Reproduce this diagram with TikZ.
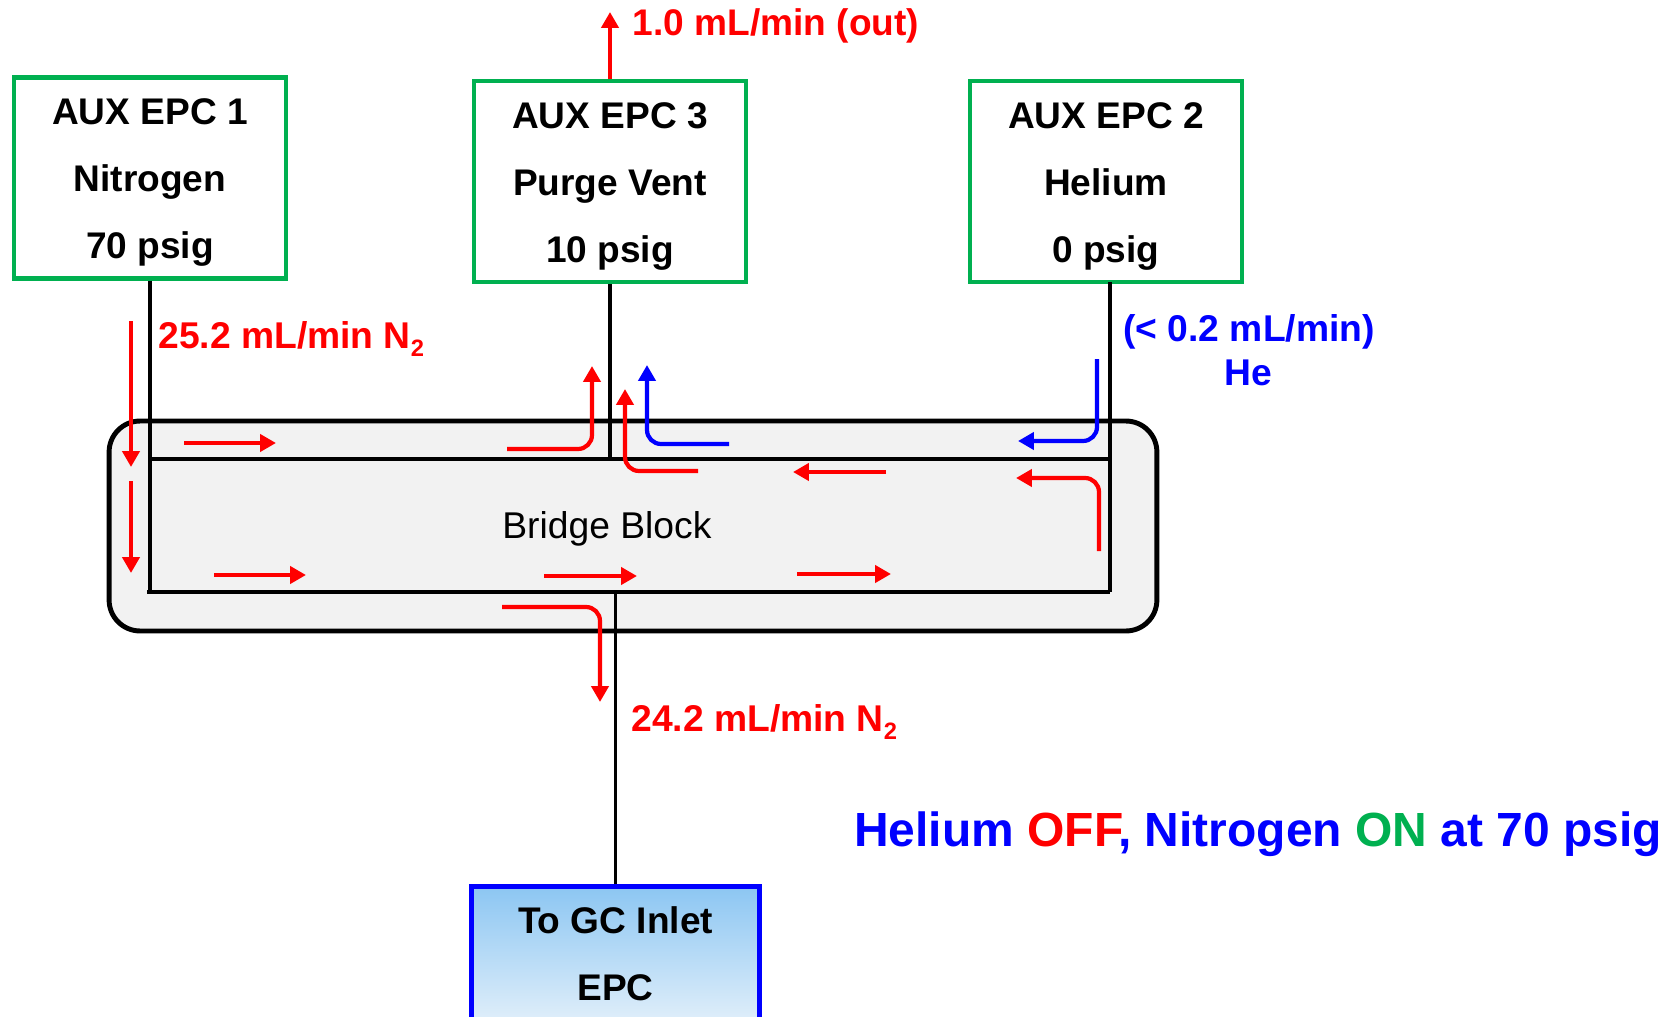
\documentclass[tikz,border=0pt]{standalone}
\usepackage{fontspec}
\setmainfont{Liberation Sans}
\usetikzlibrary{arrows.meta}
\definecolor{epcgreen}{HTML}{00B050}
\definecolor{blockgray}{HTML}{F2F2F2}
\definecolor{gctop}{HTML}{8CC6F2}
\definecolor{gcbottom}{HTML}{DFEEFA}
\newcommand{\subtwo}{\raisebox{-4.6pt}{\fontsize{13.5}{14}\selectfont 2}}
\newcommand{\boxstrut}{\rule{0pt}{20pt}}
\begin{document}
\begin{tikzpicture}[x=0.02cm, y=-0.02cm,
    epcbox/.style={draw=epcgreen, line width=2.3pt, minimum width=5.44cm, minimum height=4.02cm, align=center, inner sep=0pt, font=\fontsize{21.1}{38.2}\selectfont\bfseries},
    gcbox/.style={draw=blue, line width=2.4pt, top color=gctop, bottom color=gcbottom, minimum width=5.76cm, minimum height=2.68cm, align=center, inner sep=0pt, font=\fontsize{21.1}{38.2}\selectfont\bfseries},
    pipe/.style={black, line width=2pt},
    flow/.style={line width=2.4pt, -{Triangle[length=9pt, width=9.6pt]}},
    flowlabel/.style={anchor=base west, inner sep=0pt, font=\fontsize{21.2}{25}\selectfont\bfseries}]
    \useasboundingbox (0,0) rectangle (1674,1017);

    \node[draw, line width=2.8pt, fill=blockgray, rounded corners=0.62cm, minimum width=20.96cm, minimum height=4.2cm] (block) at (633,526) {};
    \node[anchor=base west, inner sep=0pt, font=\fontsize{21.2}{25}\selectfont] (blocklabel) at (502,538) {Bridge Block};

    \node[epcbox] (epc1) at (150,178) {\boxstrut AUX EPC 1\\Nitrogen\\70 psig};
    \node[epcbox] (epc3) at (610,181.5) {\boxstrut AUX EPC 3\\Purge Vent\\10 psig};
    \node[epcbox] (epc2) at (1106,181.5) {\boxstrut AUX EPC 2\\Helium\\0 psig};
    \node[gcbox] (gc) at (615.5,953.5) {To GC Inlet\\EPC};

    % pipes through the block
    \coordinate (topleft) at (150,459);
    \coordinate (topright) at (1110,459);
    \coordinate (botleft) at (147,592);
    \coordinate (botright) at (1110,592);
    \draw[pipe] (epc1.south) -- (epc1.south |- botleft);
    \draw[pipe] (botleft) -- (botright);
    \draw[pipe] (topleft) -- (topright);
    \draw[pipe] (epc3.south) -- (epc3.south |- topleft);
    \draw[pipe] (1110,282) -- (botright);
    \draw[pipe] (gc.north) -- (gc.north |- botleft);

    % straight flow arrows
    \foreach \n/\xa/\ya/\xb/\yb in {a/131/321/131/467, b/131/481/131/573, c/184/443/276/443, d/214/575/306/575, e/544/576/637/576, f/797/574/891/574, g/886/472/793/472} {
        \coordinate (flow\n start) at (\xa,\ya);
        \coordinate (flow\n end) at (\xb,\yb);
        \draw[flow, red] (flow\n start) -- (flow\n end);
    }

    % flow arrows with a bend
    \coordinate (ventend) at (610,12);
    \draw[flow, red] (epc3.north) -- (ventend);
    \draw[flow, red, rounded corners=0.28cm] (507,449) -- (592,449) -- (592,366);
    \draw[flow, red, rounded corners=0.28cm] (698,471) -- (625,471) -- (625,389);
    \draw[flow, red, rounded corners=0.28cm] (502,607) -- (600,607) -- (600,702);
    \draw[flow, red, rounded corners=0.28cm] (1099,551) -- (1099,478) -- (1016,478);
    \draw[flow, blue, rounded corners=0.28cm] (729,444) -- (647,444) -- (647,365);
    \draw[flow, blue, rounded corners=0.28cm] (1097,359) -- (1097,441) -- (1018,441);

    \node[flowlabel, red] (n2in) at (158,348) {25.2 mL/min N\subtwo};
    \node[flowlabel, red, font=\fontsize{21.1}{25}\selectfont\bfseries] (vent) at (632.5,36) {1.0 mL/min (out)};
    \node[flowlabel, red] (n2out) at (631,731) {24.2 mL/min N\subtwo};
    \node[flowlabel, blue] (heflow) at (1123,341) {(< 0.2 mL/min)};
    \node[flowlabel, blue, anchor=base] (helabel) at (1248.5,385) {He};
    \node[flowlabel, blue, font=\fontsize{27.3}{32}\selectfont\bfseries] (state) at (854,846) {Helium \textcolor{red}{OFF}\kern-3pt, Nitrogen \textcolor{epcgreen}{ON} at 70 psig};
\end{tikzpicture}
\end{document}
